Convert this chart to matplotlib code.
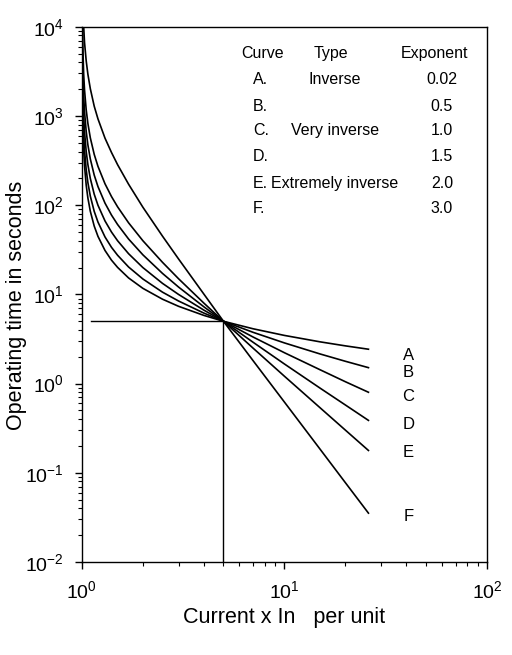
import matplotlib

matplotlib.use("Agg")
import matplotlib.pyplot as plt
from matplotlib.ticker import LogLocator, NullFormatter

plt.rcParams["font.family"] = ["Liberation Sans", "DejaVu Sans"]
plt.rcParams["axes.unicode_minus"] = False

# current in multiples of setting (per unit)
current = [1.0005, 1.001, 1.002, 1.005, 1.01, 1.02, 1.03, 1.05, 1.07, 1.1,
           1.15, 1.2, 1.3, 1.4, 1.5, 1.7, 2, 2.5, 3, 4, 5, 7, 10, 15, 20, 26]

# operating time in seconds
time_a = [16356, 8182, 4093, 1640, 822, 413, 277, 167.5, 120.8, 85.7,
          58.4, 44.8, 31.1, 24.2, 20.1, 15.3, 11.7, 8.84, 7.36, 5.82,
          5.0, 4.12, 3.47, 2.94, 2.65, 2.43]
time_b = [24720, 12364, 6183, 2475, 1239, 621, 415, 250, 179.6, 126.6,
          85.4, 64.8, 44.1, 33.7, 27.5, 20.3, 14.9, 10.6, 8.44, 6.18,
          5.0, 3.76, 2.86, 2.15, 1.78, 1.51]
time_c = [40000, 20000, 10000, 4000, 2000, 1000, 667, 400, 286, 200,
          133, 100, 66.7, 50, 40, 28.6, 20, 13.3, 10, 6.67,
          5.0, 3.33, 2.22, 1.43, 1.05, 0.80]
time_d = [67870, 33926, 16959, 6778, 3385, 1688, 1123, 670, 476, 331,
          218, 162, 105.6, 77.5, 60.8, 41.8, 27.8, 17.2, 12.1, 7.27,
          5.0, 2.91, 1.66, 0.89, 0.576, 0.387]
time_e = [119970, 59970, 29970, 11970, 5970, 2970, 1970, 1171, 828, 571,
          372, 273, 174, 125, 96, 63.5, 40, 22.9, 15, 8.0,
          5.0, 2.5, 1.21, 0.536, 0.301, 0.178]
time_f = [413100, 206460, 103127, 41128, 20461, 10129, 6686, 4150, 2950, 2030,
          1290, 930, 565, 390, 285, 172, 95, 45, 25, 10.1,
          5.0, 1.81, 0.621, 0.184, 0.0775, 0.0353]

curve_letters = ["A", "B", "C", "D", "E", "F"]
curve_types = ["Inverse", "", "Very inverse", "", "Extremely inverse", ""]
exponents = ["0.02", "0.5", "1.0", "1.5", "2.0", "3.0"]

setting_current = 5
setting_time = 5

fig = plt.figure(figsize=(5.12, 6.55), dpi=100)
ax = fig.add_axes([0.160, 0.142, 0.791, 0.817])

for series in [time_a, time_b, time_c, time_d, time_e, time_f]:
    ax.plot(current, series, color="black", linewidth=1.2)

ax.plot([1.115, setting_current], [setting_time, setting_time], color="black", linewidth=1.0)
ax.plot([setting_current, setting_current], [0.01, setting_time], color="black", linewidth=1.0)

ax.set_xscale("log")
ax.set_yscale("log")
ax.set_xlim(1, 100)
ax.set_ylim(0.01, 10000)

ax.xaxis.set_major_locator(LogLocator(base=10, numticks=10))
ax.xaxis.set_minor_locator(LogLocator(base=10, subs=range(2, 10), numticks=20))
ax.yaxis.set_major_locator(LogLocator(base=10, numticks=10))
ax.yaxis.set_minor_locator(LogLocator(base=10, subs=range(2, 10), numticks=20))
ax.xaxis.set_minor_formatter(NullFormatter())
ax.yaxis.set_minor_formatter(NullFormatter())

ax.tick_params(which="major", direction="out", length=5, width=1, labelsize=14, pad=8)
ax.tick_params(which="minor", direction="out", length=3, width=0.8)
for spine in ax.spines.values():
    spine.set_linewidth(1.0)

ax.set_xlabel("Current x In   per unit", fontsize=15.5)
ax.set_ylabel("Operating time in seconds", fontsize=15.5)
ax.xaxis.set_label_coords(0.5, -0.084)
ax.yaxis.set_label_coords(-0.136, 0.48)

# curve table in the upper right
table_rows_y = [0.901, 0.852, 0.806, 0.757, 0.708, 0.660]
ax.text(0.445, 0.951, "Curve", transform=ax.transAxes, ha="center", va="center", fontsize=11.5)
ax.text(0.615, 0.951, "Type", transform=ax.transAxes, ha="center", va="center", fontsize=11.5)
ax.text(0.870, 0.951, "Exponent", transform=ax.transAxes, ha="center", va="center", fontsize=11.5)
for row_y, letter, kind, expo in zip(table_rows_y, curve_letters, curve_types, exponents):
    ax.text(0.422, row_y, letter + ".", transform=ax.transAxes, ha="left", va="center", fontsize=11.5)
    ax.text(0.625, row_y, kind, transform=ax.transAxes, ha="center", va="center", fontsize=11.5)
    ax.text(0.889, row_y, expo, transform=ax.transAxes, ha="center", va="center", fontsize=11.5)

# letters at the right-hand ends of the curves
label_y = [2.07, 1.33, 0.72, 0.349, 0.17, 0.0326]
for letter, y in zip(curve_letters, label_y):
    ax.text(41, y, letter, ha="center", va="center", fontsize=12)

fig.savefig("out.png", dpi=100)
